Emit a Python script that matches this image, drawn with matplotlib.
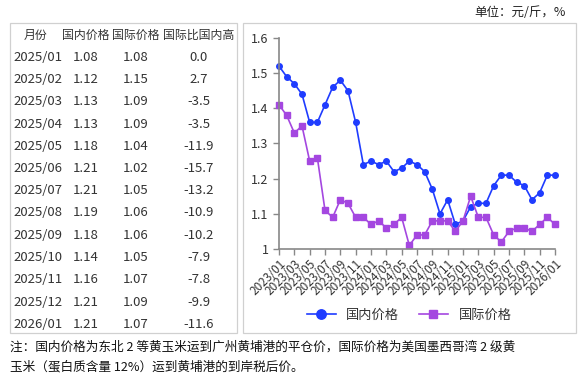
"""Domestic vs international corn price: monthly table plus line chart."""

import matplotlib

matplotlib.use("Agg")
import matplotlib.pyplot as plt
from matplotlib.patches import Rectangle

plt.rcParams["font.family"] = ["Noto Sans CJK SC", "DejaVu Sans"]

# chart data, 2023/01 .. 2026/01
months = [f"{y}/{m:02d}" for y in (2023, 2024, 2025) for m in range(1, 13)] + ["2026/01"]
domestic = [1.52, 1.49, 1.47, 1.44, 1.36, 1.36, 1.41, 1.46, 1.48, 1.45, 1.36, 1.24,
            1.25, 1.24, 1.25, 1.22, 1.23, 1.25, 1.24, 1.22, 1.17, 1.10, 1.14, 1.07,
            1.08, 1.12, 1.13, 1.13, 1.18, 1.21, 1.21, 1.19, 1.18, 1.14, 1.16, 1.21,
            1.21]
international = [1.41, 1.38, 1.33, 1.35, 1.25, 1.26, 1.11, 1.09, 1.14, 1.13, 1.09, 1.09,
                 1.07, 1.08, 1.06, 1.07, 1.09, 1.01, 1.04, 1.04, 1.08, 1.08, 1.08, 1.05,
                 1.08, 1.15, 1.09, 1.09, 1.04, 1.02, 1.05, 1.06, 1.06, 1.05, 1.07, 1.09,
                 1.07]

# table data
table_header = ["月份", "国内价格", "国际价格", "国际比国内高"]
table_months = ["2025/01", "2025/02", "2025/03", "2025/04", "2025/05", "2025/06", "2025/07",
                "2025/08", "2025/09", "2025/10", "2025/11", "2025/12", "2026/01"]
table_dom = ["1.08", "1.12", "1.13", "1.13", "1.18", "1.21", "1.21",
             "1.19", "1.18", "1.14", "1.16", "1.21", "1.21"]
table_intl = ["1.08", "1.15", "1.09", "1.09", "1.04", "1.02", "1.05",
              "1.06", "1.06", "1.05", "1.07", "1.09", "1.07"]
table_diff = ["0.0", "2.7", "-3.5", "-3.5", "-11.9", "-15.7", "-13.2",
              "-10.9", "-10.2", "-7.9", "-7.8", "-9.9", "-11.6"]

W, H = 582, 381
fig = plt.figure(figsize=(W / 100, H / 100), dpi=100)


def fx(px):
    return px / W


def fy(py):
    return 1 - py / H


# panel frames
for x0, x1 in ((10, 237), (243, 576)):
    fig.patches.append(Rectangle((fx(x0), fy(333)), fx(x1 - x0), (333 - 23) / H,
                                 transform=fig.transFigure, fill=False,
                                 edgecolor="#d0d0d0", linewidth=0.9))

# table
col_x = [36, 86, 136, 199]
row_y0, row_dy = 35, 22.25
for j, txt in enumerate(table_header):
    fig.text(fx(col_x[j]), fy(row_y0), txt, ha="center", va="center",
             fontsize=8.6, color="#333333")
for i in range(len(table_months)):
    y = fy(row_y0 + (i + 1) * row_dy)
    fig.text(fx(13), y, table_months[i], ha="left", va="center", fontsize=9.5, color="#333333")
    fig.text(fx(col_x[1]), y, table_dom[i], ha="center", va="center", fontsize=9.5, color="#333333")
    fig.text(fx(col_x[2]), y, table_intl[i], ha="center", va="center", fontsize=9.5, color="#333333")
    fig.text(fx(col_x[3]), y, table_diff[i], ha="center", va="center", fontsize=9.5, color="#333333")

# chart
ax = fig.add_axes([fx(279), fy(249), fx(555 - 279), (249 - 38) / H])
x = list(range(len(months)))
ax.plot(x, domestic, color="#1f3cff", marker="o", markersize=4, linewidth=1.2,
        label="国内价格", clip_on=False)
ax.plot(x, international, color="#a447e0", marker="s", markersize=3.8, linewidth=1.2,
        label="国际价格", clip_on=False)
ax.set_xlim(0, len(months) - 1)
ax.set_ylim(1.0, 1.6)
ax.set_yticks([1.0, 1.1, 1.2, 1.3, 1.4, 1.5, 1.6])
ax.set_yticklabels(["1", "1.1", "1.2", "1.3", "1.4", "1.5", "1.6"])
ax.set_xticks(x[::2])
ax.set_xticklabels(months[::2], rotation=45, ha="right", rotation_mode="anchor")
for s in ("top", "right"):
    ax.spines[s].set_visible(False)
for s in ("left", "bottom"):
    ax.spines[s].set_color("#888888")
    ax.spines[s].set_linewidth(1.2)
ax.tick_params(axis="both", colors="#888888", labelcolor="#333333", labelsize=9,
               length=4, width=1)
ax.tick_params(axis="x", labelsize=8.5, pad=2)

fig.legend(*ax.get_legend_handles_labels(), loc="center", bbox_to_anchor=(fx(409), fy(315)),
           ncol=2, frameon=False, fontsize=9.5, handlelength=2.2, columnspacing=1.5,
           markerscale=1.7, labelcolor="#333333")

# unit and note
fig.text(fx(566), fy(13), "单位：元/斤，%", ha="right", va="center", fontsize=9, color="#222222")
fig.text(fx(10), fy(347), "注：国内价格为东北 2 等黄玉米运到广州黄埔港的平仓价，国际价格为美国墨西哥湾 2 级黄",
         ha="left", va="center", fontsize=9.1, color="#111111")
fig.text(fx(10), fy(367), "玉米（蛋白质含量 12%）运到黄埔港的到岸税后价。",
         ha="left", va="center", fontsize=9.1, color="#111111")

fig.savefig("out.png", dpi=100)
